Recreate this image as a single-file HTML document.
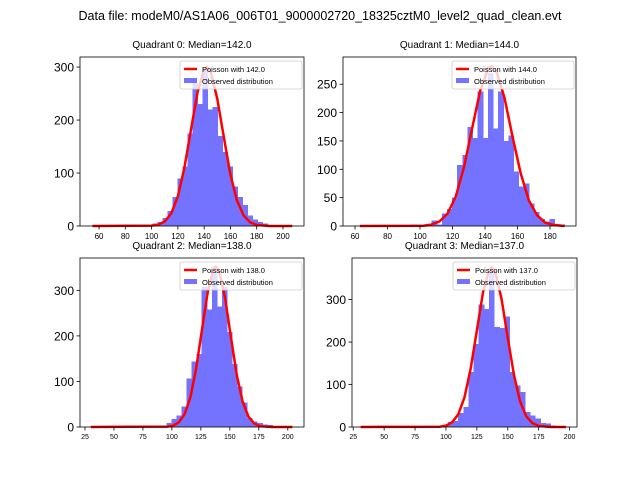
<!DOCTYPE html>
<html><head><meta charset="utf-8"><style>
body{margin:0;background:#fff;}
svg{display:block;font-family:"Liberation Sans","DejaVu Sans",sans-serif;}
</style></head><body>
<svg id="chart" width="640" height="480" viewBox="0 0 640 480">
<text x="320" y="20" text-anchor="middle" font-size="12.5">Data file: modeM0/AS1A06_006T01_9000002720_18325cztM0_level2_quad_clean.evt</text>
</svg>
<script>
// Panel 0
const q0Start = 55, q0Width = 3.8;
const q0Counts = [0,0,0,0,0,0,0,0,0,0,0,3,5,8,15,28,55,90,112,175,270,230,300,220,225,170,140,112,75,55,40,20,12,8,5,0,0,0,0,0];
const q0CurveX = [55,100,105,110,115,120,125,130,135,140,142,145,150,155,160,165,170,175,180,190,207];
const q0CurveY = [0,0.7,2.6,8.5,24,56,110,182,253,296,300,291,240,167,97,48,20,7,2,0,0];
// Panel 1
const q1Start = 63, q1Width = 3.15;
const q1Counts = [0,0,0,0,0,0,0,0,0,0,3,3,0,3,10,3,22,30,50,108,125,175,155,237,155,270,172,237,150,160,96,70,75,40,25,12,8,12,3,3];
const q1CurveX = [63,102,107,112,117,122,127,132,137,142,144,147,152,157,162,167,172,177,182,189];
const q1CurveY = [0,0.6,2.5,8,22,52,103,171,238,278,282,273,226,157,92,45,19,6,2,0];
// Panel 2
const q2Start = 30, q2Width = 4.35;
const q2Counts = [0,0,0,0,0,0,0,0,0,0,0,0,0,0,0,9,18,25,45,106,144,160,307,258,345,265,307,209,138,89,54,20,12,9,5,4,0,0,0,0];
const q2CurveX = [30,96,101,106,111,116,121,126,131,136,138,141,146,151,156,161,166,171,176,186,204];
const q2CurveY = [0,0.8,3,10,28,65,129,214,297,347,352,341,282,196,114,56,23,8,2,0,0];
// Panel 3
const q3Start = 31, q3Width = 4.15;
const q3Counts = [0,0,0,0,0,0,0,0,0,0,0,0,0,0,0,0,5,12,14,33,47,130,196,288,278,372,235,233,260,130,98,82,35,27,20,10,8,4,0,0];
const q3CurveX = [31,95,100,105,110,115,120,125,130,135,137,140,145,150,155,160,165,170,175,185,197];
const q3CurveY = [0,0.8,3.3,11,30,70,138,228,317,371,376,364,301,209,122,60,25,9,2.5,0,0];
// Axis config
const q0XTicks = [60,80,100,120,140,160,180,200], q0YTicks = [0,100,200,300];
const q1XTicks = [60,80,100,120,140,160,180], q1YTicks = [0,50,100,150,200,250];
const q2XTicks = [25,50,75,100,125,150,175,200], q2YTicks = [0,100,200,300];
const q3XTicks = [25,50,75,100,125,150,175,200], q3YTicks = [0,100,200,300];
const medians = ["142.0","144.0","138.0","137.0"];

const NS = "http://www.w3.org/2000/svg";
const svg = document.getElementById('chart');
function mk(tag, attrs, parent){const e=document.createElementNS(NS,tag);for(const k in attrs)e.setAttribute(k,attrs[k]);(parent||svg).appendChild(e);return e;}

const panels = [
 {L:80,R:304,T:57,B:226,xmin:45.5,xmax:216,ymax:319,start:q0Start,w:q0Width,counts:q0Counts,cx:q0CurveX,cy:q0CurveY,xt:q0XTicks,yt:q0YTicks,xfs:8,yfs:12},
 {L:343,R:576,T:57,B:226,xmin:52.6,xmax:196,ymax:298,start:q1Start,w:q1Width,counts:q1Counts,cx:q1CurveX,cy:q1CurveY,xt:q1XTicks,yt:q1YTicks,xfs:8,yfs:12},
 {L:80,R:304,T:258,B:427,xmin:20.7,xmax:214,ymax:371,start:q2Start,w:q2Width,counts:q2Counts,cx:q2CurveX,cy:q2CurveY,xt:q2XTicks,yt:q2YTicks,xfs:7,yfs:12},
 {L:352,R:577,T:258,B:427,xmin:24,xmax:206,ymax:398,start:q3Start,w:q3Width,counts:q3Counts,cx:q3CurveX,cy:q3CurveY,xt:q3XTicks,yt:q3YTicks,xfs:7,yfs:12}
];

panels.forEach((p,pi)=>{
  const g = mk('g',{});
  
  
  const xs = v => p.L + (v-p.xmin)/(p.xmax-p.xmin)*(p.R-p.L);
  const ys = v => p.B - v/p.ymax*(p.B-p.T);
  const t = mk('text',{x:(p.L+p.R)/2,y:p.T-9,'text-anchor':'middle','font-size':'10'},g);
  t.textContent = 'Quadrant '+pi+': Median='+medians[pi];
  
  
  p.counts.forEach((c,i)=>{
    if(c<=0) return;
    const x0 = xs(p.start+i*p.w), x1 = xs(p.start+(i+1)*p.w);
    const r = mk('rect',{x:x0,y:ys(c),width:x1-x0+0.6,height:p.B-ys(c),fill:'#7373ff','shape-rendering':'crispEdges'},g);
    
    
  });
  const pts = p.cx.map((x,i)=>xs(x).toFixed(1)+','+ys(p.cy[i]).toFixed(1)).join(' ');
  const pl = mk('polyline',{points:pts,fill:'none',stroke:'#ff0000','stroke-width':2.5,'stroke-linejoin':'round'},g);
  
  
  const fr = mk('rect',{x:p.L,y:p.T,width:p.R-p.L,height:p.B-p.T,fill:'none',stroke:'#000','stroke-width':0.8},g);
  
  
  p.xt.forEach(v=>{
    const x = xs(v);
    mk('line',{x1:x,x2:x,y1:p.B,y2:p.B+3.5,stroke:'#000','stroke-width':0.8},g);
    const tx = mk('text',{x:x,y:p.B+5+p.xfs,'text-anchor':'middle','font-size':p.xfs},g);
    tx.textContent = v;
    
    
  });
  p.yt.forEach(v=>{
    const y = ys(v);
    mk('line',{x1:p.L-3.5,x2:p.L,y1:y,y2:y,stroke:'#000','stroke-width':0.8},g);
    const ty = mk('text',{x:p.L-6,y:y+4.5,'text-anchor':'end','font-size':p.yfs},g);
    ty.textContent = v;
    
    
  });
  const lx = p.R-124, ly = p.T+4;
  const lg = mk('g',{},g);
  
  
  mk('rect',{x:lx,y:ly,width:122,height:28,fill:'#fff','fill-opacity':0.8,stroke:'#ccc','stroke-width':0.8,rx:2},lg);
  mk('line',{x1:lx+4,x2:lx+17,y1:ly+8,y2:ly+8,stroke:'#ff0000','stroke-width':2.5},lg);
  const l1 = mk('text',{x:lx+22,y:ly+11,'font-size':'7.5'},lg);
  l1.textContent = 'Poisson with '+medians[pi];
  
  
  mk('rect',{x:lx+4,y:ly+17,width:13,height:5,fill:'#7373ff'},lg);
  const l2 = mk('text',{x:lx+22,y:ly+23,'font-size':'7.5'},lg);
  l2.textContent = 'Observed distribution';
  
  
});
</script>
</body></html>
